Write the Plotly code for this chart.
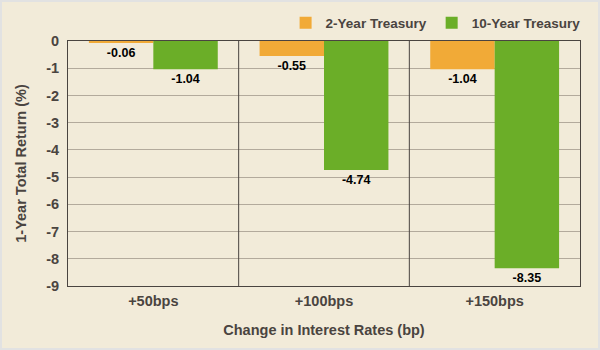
import plotly.graph_objects as go

categories = ["+50bps", "+100bps", "+150bps"]
two_year = [-0.06, -0.55, -1.04]
ten_year = [-1.04, -4.74, -8.35]
y_ticks = [0, -1, -2, -3, -4, -5, -6, -7, -8, -9]

BG = "#F2EBD9"
TXT = "#4A4440"
FONT = "Liberation Sans, Arial, sans-serif"
FS = 14.5

W, H = 600, 350
ML, MR, MT, MB = 68, 20, 41, 64

fig = go.Figure()
fig.add_trace(go.Bar(
    name="2-Year Treasury", x=categories, y=two_year,
    marker=dict(color="#F1AA37", line=dict(width=0)),
    texttemplate="%{y:.2f}", textposition="outside",
    textfont=dict(color="#000000", size=12.5, family=FONT, weight="bold"),
    cliponaxis=False,
))
fig.add_trace(go.Bar(
    name="10-Year Treasury", x=categories, y=ten_year,
    marker=dict(color="#6BAE28", line=dict(width=0)),
    texttemplate="%{y:.2f}", textposition="outside",
    textfont=dict(color="#000000", size=12.5, family=FONT, weight="bold"),
    cliponaxis=False,
))

# category separators
for xv in [0.5, 1.5]:
    fig.add_shape(type="line", xref="x", yref="paper", x0=xv, x1=xv, y0=0, y1=1,
                  line=dict(color="#4A4440", width=1))

# outer border
pw = W - ML - MR
ph = H - MT - MB
fig.add_shape(type="rect", xref="paper", yref="paper",
              x0=-(ML - 1) / pw, x1=(W - ML - 1) / pw,
              y0=-(MB - 1) / ph, y1=(H - MB - 1) / ph,
              line=dict(color="#E2E2E2", width=2), layer="below")

fig.update_layout(
    width=W, height=H,
    margin=dict(l=ML, r=MR, t=MT, b=MB, autoexpand=False),
    paper_bgcolor=BG, plot_bgcolor=BG,
    barmode="group", bargap=0.245, bargroupgap=0,
    font=dict(family=FONT, color=TXT, size=FS),
    showlegend=True,
    legend=dict(orientation="h", xref="container", yref="container",
                x=0.976, xanchor="right", y=1 - 23 / H, yanchor="middle",
                font=dict(size=13.5, color=TXT, family=FONT, weight="bold"),
                bgcolor="rgba(0,0,0,0)", itemwidth=30, traceorder="normal",
                tracegroupgap=0),
    xaxis=dict(
        type="category", showgrid=False, ticks="", showline=True, linecolor="#4A4440",
        linewidth=1, mirror=True, ticklabelstandoff=2,
        tickfont=dict(size=FS, color=TXT, family=FONT, weight="bold"),
        title=dict(text="Change in Interest Rates (bp)", standoff=16,
                   font=dict(size=FS, color=TXT, family=FONT, weight="bold")),
    ),
    yaxis=dict(
        range=[-9, 0], tickvals=y_ticks, ticktext=[str(v) for v in y_ticks],
        showgrid=True, gridcolor="#B3AA9C", gridwidth=1, zeroline=False,
        showline=True, linecolor="#4A4440", linewidth=1, mirror=True, ticks="",
        ticklabelstandoff=5,
        tickfont=dict(size=FS, color=TXT, family=FONT, weight="bold"),
        title=dict(text="1-Year Total Return (%)", standoff=16,
                   font=dict(size=FS, color=TXT, family=FONT, weight="bold")),
    ),
)

fig.write_html("out.html")
